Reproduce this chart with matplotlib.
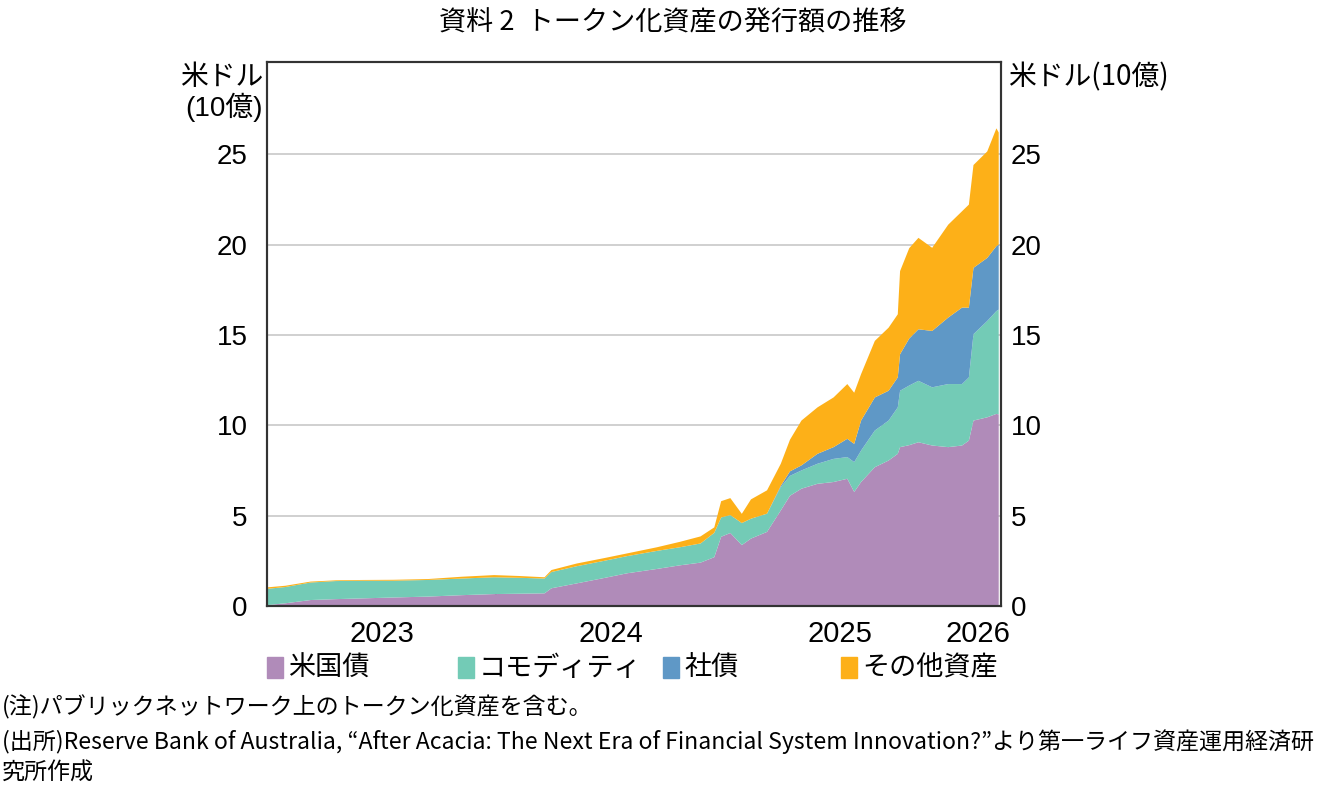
#!/usr/bin/env python3
"""tokenized_assets.py"""

import matplotlib
matplotlib.use("Agg")
import matplotlib.pyplot as plt
from matplotlib.patches import Rectangle
import numpy as np

plt.rcParams['font.family'] = ['Noto Sans CJK JP', 'DejaVu Sans']

# decimal years
years = [2023.00, 2023.08, 2023.19, 2023.30, 2023.41, 2023.55, 2023.70, 2023.85,
         2023.99, 2024.10, 2024.21, 2024.24, 2024.35, 2024.47, 2024.57, 2024.70,
         2024.80, 2024.89, 2024.95, 2024.98, 2025.02, 2025.07, 2025.11, 2025.18,
         2025.24, 2025.28, 2025.33, 2025.40, 2025.47, 2025.53, 2025.56, 2025.59,
         2025.65, 2025.71, 2025.75, 2025.76, 2025.80, 2025.84, 2025.90, 2025.97,
         2026.03, 2026.06, 2026.08, 2026.14, 2026.18, 2026.19]

# US$ bn
treasuries = [0.05, 0.15, 0.33, 0.38, 0.42, 0.47, 0.52, 0.60,
              0.66, 0.68, 0.70, 0.98, 1.25, 1.55, 1.81, 2.05,
              2.25, 2.40, 2.70, 3.83, 4.04, 3.37, 3.73, 4.10,
              5.29, 6.10, 6.49, 6.76, 6.86, 7.04, 6.31, 6.86,
              7.68, 8.05, 8.42, 8.79, 8.90, 9.06, 8.88, 8.79,
              8.88, 9.15, 10.26, 10.44, 10.63, 10.60]
commodities = [0.90, 0.90, 0.97, 1.00, 0.98, 0.93, 0.92, 0.92,
               0.93, 0.88, 0.82, 0.90, 0.95, 0.95, 0.95, 1.00,
               1.00, 1.06, 1.35, 1.07, 0.99, 1.22, 1.10, 1.01,
               1.29, 1.10, 1.01, 1.11, 1.28, 1.20, 1.65, 1.74,
               2.03, 2.21, 2.57, 3.12, 3.30, 3.40, 3.22, 3.49,
               3.40, 3.50, 4.78, 5.33, 5.69, 5.80]
corporate = [0, 0, 0, 0, 0, 0, 0, 0,
             0, 0, 0, 0, 0, 0, 0, 0,
             0, 0, 0, 0, 0, 0, 0, 0,
             0.07, 0.25, 0.28, 0.55, 0.65, 1.01, 1.01, 1.66,
             1.83, 1.65, 1.66, 2.02, 2.60, 2.85, 3.12, 3.68,
             4.23, 3.86, 3.67, 3.49, 3.59, 3.60]
other = [0.08, 0.07, 0.05, 0.04, 0.04, 0.05, 0.05, 0.10,
         0.12, 0.10, 0.07, 0.11, 0.15, 0.15, 0.15, 0.20,
         0.30, 0.39, 0.30, 0.90, 0.94, 0.51, 1.07, 1.29,
         1.22, 1.75, 2.48, 2.57, 2.75, 3.03, 2.83, 2.57,
         3.13, 3.49, 3.49, 4.60, 5.00, 5.06, 4.60, 5.14,
         5.33, 5.70, 5.69, 5.89, 6.52, 6.20]

labels = ['米国債', 'コモディティ', '社債', 'その他資産']
colors = ['#b08bb9', '#73cbb6', '#5f98c6', '#fdb018']
year_labels = ['2023', '2024', '2025', '2026']
year_label_pos = [2023.5, 2024.5, 2025.5, 2026.1]
yticks = [0, 5, 10, 15, 20, 25]

NUM_FONT = ['Liberation Sans', 'Noto Sans CJK JP']


def plot(fig):
    ax = fig.add_axes([267 / 1337, 1 - 606 / 787, 734 / 1337, 544 / 787])
    ax.stackplot(years, treasuries, commodities, corporate, other,
                 colors=colors, linewidth=0)
    ax.set_xlim(2023.0, 2026.2)
    ax.set_ylim(0, 30.1)

    ax.set_yticks(yticks)
    ax.yaxis.grid(True, color='#c8c8c8', linewidth=1.2)
    ax.set_axisbelow(True)
    ax.tick_params(axis='y', length=0, labelsize=20, pad=14)
    for t in ax.get_yticklabels():
        t.set_family(NUM_FONT)

    # right-hand labels, same scale
    ax2 = ax.twinx()
    ax2.set_ylim(ax.get_ylim())
    ax2.set_yticks(yticks)
    ax2.tick_params(axis='y', length=0, labelsize=20, pad=7)
    for t in ax2.get_yticklabels():
        t.set_family(NUM_FONT)

    ax.set_xticks([2024, 2025, 2026])
    ax.set_xticklabels([])
    ax.tick_params(axis='x', which='major', direction='in', length=9,
                   width=1.5, color='#333333')
    ax.set_xticks(year_label_pos, minor=True)
    ax.set_xticklabels(year_labels, minor=True, fontsize=21, family=NUM_FONT)
    ax.tick_params(axis='x', which='minor', length=0, pad=10)

    for a in (ax, ax2):
        for s in a.spines.values():
            s.set_color('#333333')
            s.set_linewidth(1.5)

    # legend
    legend_x = [267, 458, 663, 841]
    for x0, lab, col in zip(legend_x, labels, colors):
        fig.patches.append(Rectangle((x0 / 1337, 1 - 678 / 787), 16 / 1337, 21 / 787,
                                     transform=fig.transFigure, color=col))
        fig.text((x0 + 21) / 1337, 1 - 668 / 787, lab, fontsize=19.5,
                 va='center', ha='left')

    fig.text(673 / 1337, 1 - 22 / 787, '資料 2  トークン化資産の発行額の推移',
             fontsize=19.5, ha='center', va='center')
    fig.text(263 / 1337, 1 - 77 / 787, '米ドル', fontsize=20, ha='right', va='center')
    fig.text(263 / 1337, 1 - 107 / 787, '(10億)', fontsize=20, ha='right', va='center',
             family=NUM_FONT)
    fig.text(1008 / 1337, 1 - 77 / 787, '米ドル(10億)', fontsize=20, ha='left',
             va='center')

    fig.text(2 / 1337, 1 - 707 / 787, '(注)パブリックネットワーク上のトークン化資産を含む。',
             fontsize=16.6, ha='left', va='center')
    fig.text(2 / 1337, 1 - 742 / 787,
             '(出所)Reserve Bank of Australia, “After Acacia: The Next Era of Financial '
             'System Innovation?”より第一ライフ資産運用経済研',
             fontsize=16.6, ha='left', va='center')
    fig.text(2 / 1337, 1 - 773 / 787, '究所作成', fontsize=16.6, ha='left', va='center')


def main():
    fig = plt.figure(figsize=(13.37, 7.87), dpi=100)
    plot(fig)
    fig.savefig('out.png', dpi=100)


if __name__ == "__main__":
    main()
